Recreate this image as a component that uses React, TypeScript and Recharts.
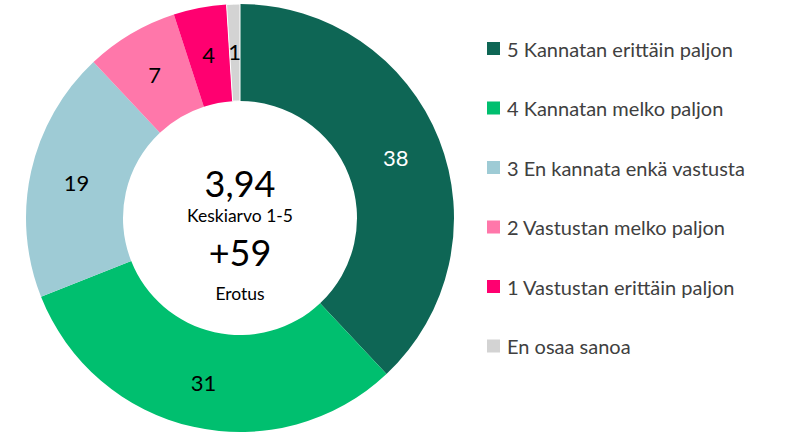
import React from "react";
import { PieChart, Pie, Cell } from "recharts";

const categories = [
  "5 Kannatan erittäin paljon",
  "4 Kannatan melko paljon",
  "3 En kannata enkä vastusta",
  "2 Vastustan melko paljon",
  "1 Vastustan erittäin paljon",
  "En osaa sanoa",
];
const values = [38, 31, 19, 7, 4, 1];
const colors = ["#0E6655", "#00BF6F", "#9ECBD5", "#FF77AA", "#FF0070", "#D3D3D3"];
const labelColors = ["#FFFFFF", "#000000", "#000000", "#000000", "#000000", "#000000"];
const centerTexts = ["3,94", "Keskiarvo 1-5", "+59", "Erotus"];

const data = categories.map((name, i) => ({ name, value: values[i] }));
const FONT = "Lato, 'Liberation Sans', sans-serif";
const RAD = Math.PI / 180;

const renderLabel = (props: any) => {
  const { cx, cy, midAngle, innerRadius, outerRadius, index, value } = props;
  const r = (innerRadius + outerRadius) / 2 + 2;
  const x = cx + r * Math.cos(-midAngle * RAD);
  const y = cy + r * Math.sin(-midAngle * RAD);
  return (
    <text
      x={x}
      y={y + 1}
      fill={labelColors[index]}
      textAnchor="middle"
      dominantBaseline="central"
      fontSize={22}
      fontFamily={FONT}
    >
      {value}
    </text>
  );
};

export default function App() {
  return (
    <div style={{ position: "absolute", left: 0, top: 0, width: 802, height: 433, background: "#fff" }}>
      <PieChart width={802} height={433} margin={{ top: 0, right: 0, bottom: 0, left: 0 }}>
        <Pie
          data={data}
          dataKey="value"
          nameKey="name"
          cx={240}
          cy={218}
          outerRadius={214}
          innerRadius={117}
          startAngle={90}
          endAngle={-270}
          stroke="none"
          label={renderLabel}
          labelLine={false}
          isAnimationActive={false}
        >
          {data.map((d, i) => (
            <Cell
              key={d.name}
              fill={colors[i]}
              stroke={i === data.length - 1 ? "#FFFFFF" : "none"}
              strokeWidth={i === data.length - 1 ? 1 : 0}
            />
          ))}
        </Pie>
        <text x={240} y={183} textAnchor="middle" dominantBaseline="central" fontSize={36} fontFamily={FONT} fill="#000">
          {centerTexts[0]}
        </text>
        <text x={240} y={215} textAnchor="middle" dominantBaseline="central" fontSize={17.5} fontFamily={FONT} fill="#000">
          {centerTexts[1]}
        </text>
        <text x={240} y={252} textAnchor="middle" dominantBaseline="central" fontSize={36} fontFamily={FONT} fill="#000">
          {centerTexts[2]}
        </text>
        <text x={240} y={293} textAnchor="middle" dominantBaseline="central" fontSize={17.5} fontFamily={FONT} fill="#000">
          {centerTexts[3]}
        </text>
        {categories.map((c, i) => (
          <g key={c}>
            <rect x={487} y={42 + i * 59.5} width={13} height={13} fill={colors[i]} />
            <text
              x={507}
              y={48.5 + i * 59.5}
              dominantBaseline="central"
              fontSize={20}
              fontFamily={FONT}
              fill="#404040"
            >
              {c}
            </text>
          </g>
        ))}
      </PieChart>
    </div>
  );
}
